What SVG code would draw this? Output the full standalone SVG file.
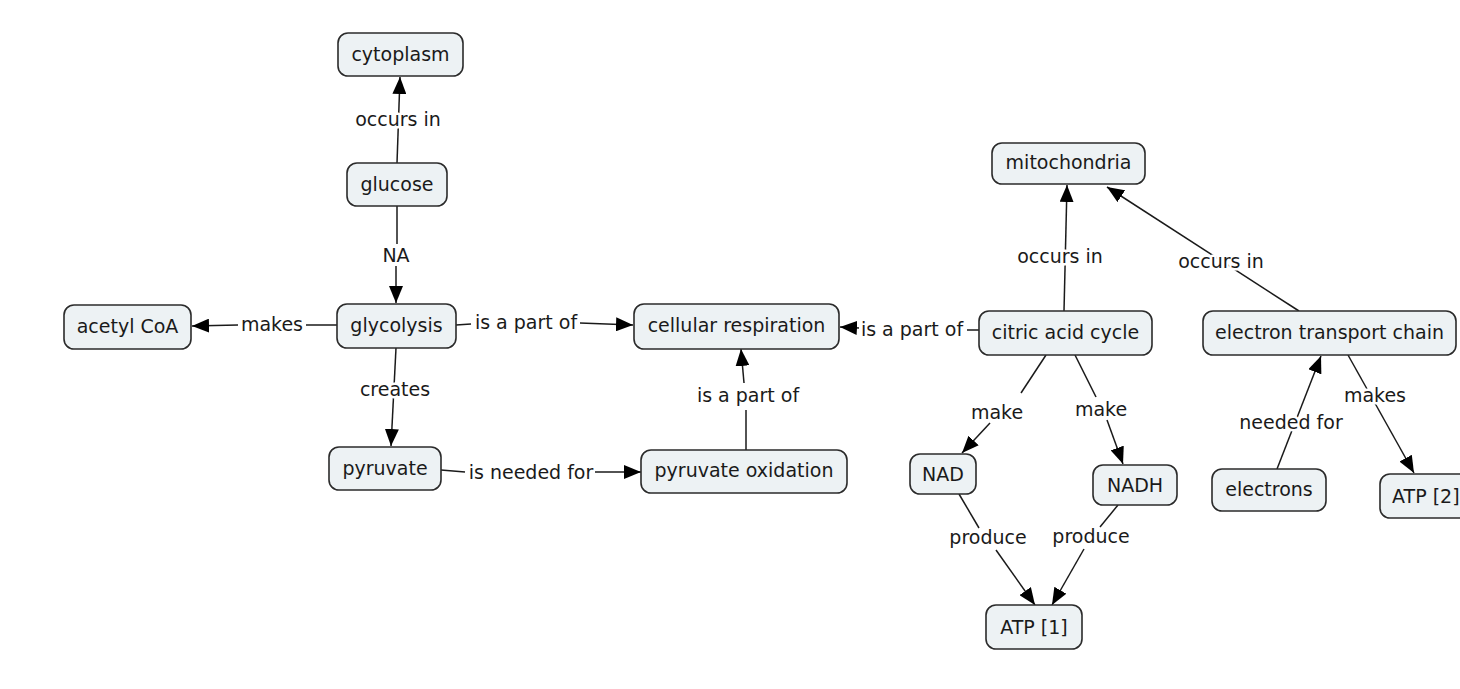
<svg xmlns="http://www.w3.org/2000/svg" width="1460" height="689" viewBox="0 0 1460 689">
<style>
.n rect{fill:#edf2f4;stroke:#2b2b2b;stroke-width:1.6}
text{font-family:"DejaVu Sans","Liberation Sans",sans-serif;font-size:19px;fill:#1a1a1a;text-anchor:middle}
.c path{fill:none;stroke:#1a1a1a;stroke-width:1.5}
.h{stroke:#fff;stroke-width:5;paint-order:stroke;stroke-linejoin:round}
</style>
<defs>
<marker id="a" viewBox="0 0 17 14" refX="17" refY="7" markerWidth="17" markerHeight="14" markerUnits="userSpaceOnUse" orient="auto">
<path d="M0,0 L17,7 L0,14 z" fill="#000"/>
</marker>
</defs>
<rect width="1460" height="689" fill="#fff"/>
<g id="connectors" class="c">
<path d="M397,163 L400,77" marker-end="url(#a)"/>
<path d="M397,206 L397,244"/><path d="M396,266 L396,303" marker-end="url(#a)"/>
<path d="M337,325 L306,325"/><path d="M238,325 L192,326" marker-end="url(#a)"/>
<path d="M456,325 L471,324"/><path d="M580,323 L633,325" marker-end="url(#a)"/>
<path d="M396,348 L391,446" marker-end="url(#a)"/>
<path d="M441,470 L465,472"/><path d="M595,472 L641,472" marker-end="url(#a)"/>
<path d="M746,450 L746,410"/><path d="M744,383 L741,349" marker-end="url(#a)"/>
<path d="M979,330 L967,330"/><path d="M859,328 L840,327" marker-end="url(#a)"/>
<path d="M1064,311 L1067,185" marker-end="url(#a)"/>
<path d="M1299,311 L1107,187" marker-end="url(#a)"/>
<path d="M1046,355 L1021,393"/><path d="M990,423 L962,453" marker-end="url(#a)"/>
<path d="M1075,355 L1096,397"/><path d="M1107,420 L1123,464" marker-end="url(#a)"/>
<path d="M959,494 L979,528"/><path d="M996,550 L1035,605" marker-end="url(#a)"/>
<path d="M1118,505 L1100,527"/><path d="M1084,549 L1052,605" marker-end="url(#a)"/>
<path d="M1277,469 L1321,356" marker-end="url(#a)"/>
<path d="M1348,355 L1414,473" marker-end="url(#a)"/>
</g>
<g id="labels">
<text class="h" x="398" y="126">occurs in</text>
<text x="396" y="262">NA</text>
<text x="272" y="331">makes</text>
<text x="526" y="329">is a part of</text>
<text class="h" x="395" y="396">creates</text>
<text x="531" y="479">is needed for</text>
<text x="748" y="402">is a part of</text>
<text x="912" y="336">is a part of</text>
<text class="h" x="1060" y="263">occurs in</text>
<text class="h" x="1221" y="268">occurs in</text>
<text x="997" y="419">make</text>
<text x="1101" y="416">make</text>
<text x="988" y="544">produce</text>
<text x="1091" y="543">produce</text>
<text class="h" x="1291" y="429">needed for</text>
<text class="h" x="1375" y="402">makes</text>
</g>
<g id="cytoplasm" class="n"><rect x="338" y="33" width="125" height="43" rx="10"/><text x="400.5" y="61">cytoplasm</text></g>
<g id="glucose" class="n"><rect x="347" y="163" width="100" height="43" rx="10"/><text x="397" y="191">glucose</text></g>
<g id="glycolysis" class="n"><rect x="337" y="304" width="119" height="44" rx="10"/><text x="396.5" y="332">glycolysis</text></g>
<g id="acetyl-coa" class="n"><rect x="64" y="305" width="127" height="44" rx="10"/><text x="127.5" y="333">acetyl CoA</text></g>
<g id="cellular-respiration" class="n"><rect x="634" y="304" width="205" height="45" rx="10"/><text x="736.5" y="332">cellular respiration</text></g>
<g id="pyruvate" class="n"><rect x="329" y="447" width="112" height="43" rx="10"/><text x="385" y="475">pyruvate</text></g>
<g id="pyruvate-oxidation" class="n"><rect x="641" y="450" width="206" height="43" rx="10"/><text x="744" y="477">pyruvate oxidation</text></g>
<g id="mitochondria" class="n"><rect x="992" y="143" width="153" height="41" rx="10"/><text x="1068.5" y="169">mitochondria</text></g>
<g id="citric-acid-cycle" class="n"><rect x="979" y="311" width="173" height="44" rx="10"/><text x="1065.5" y="339">citric acid cycle</text></g>
<g id="electron-transport-chain" class="n"><rect x="1203" y="311" width="253" height="44" rx="10"/><text x="1329.5" y="339">electron transport chain</text></g>
<g id="nad" class="n"><rect x="910" y="454" width="66" height="40" rx="10"/><text x="943" y="481">NAD</text></g>
<g id="nadh" class="n"><rect x="1093" y="465" width="84" height="40" rx="10"/><text x="1135" y="492">NADH</text></g>
<g id="electrons" class="n"><rect x="1212" y="469" width="114" height="42" rx="10"/><text x="1269" y="496">electrons</text></g>
<g id="atp2" class="n"><rect x="1380" y="474" width="100" height="44" rx="10"/><text x="1392" y="503" style="text-anchor:start">ATP [2]</text></g>
<g id="atp1" class="n"><rect x="986" y="605" width="96" height="44" rx="10"/><text x="1034" y="634">ATP [1]</text></g>
</svg>
